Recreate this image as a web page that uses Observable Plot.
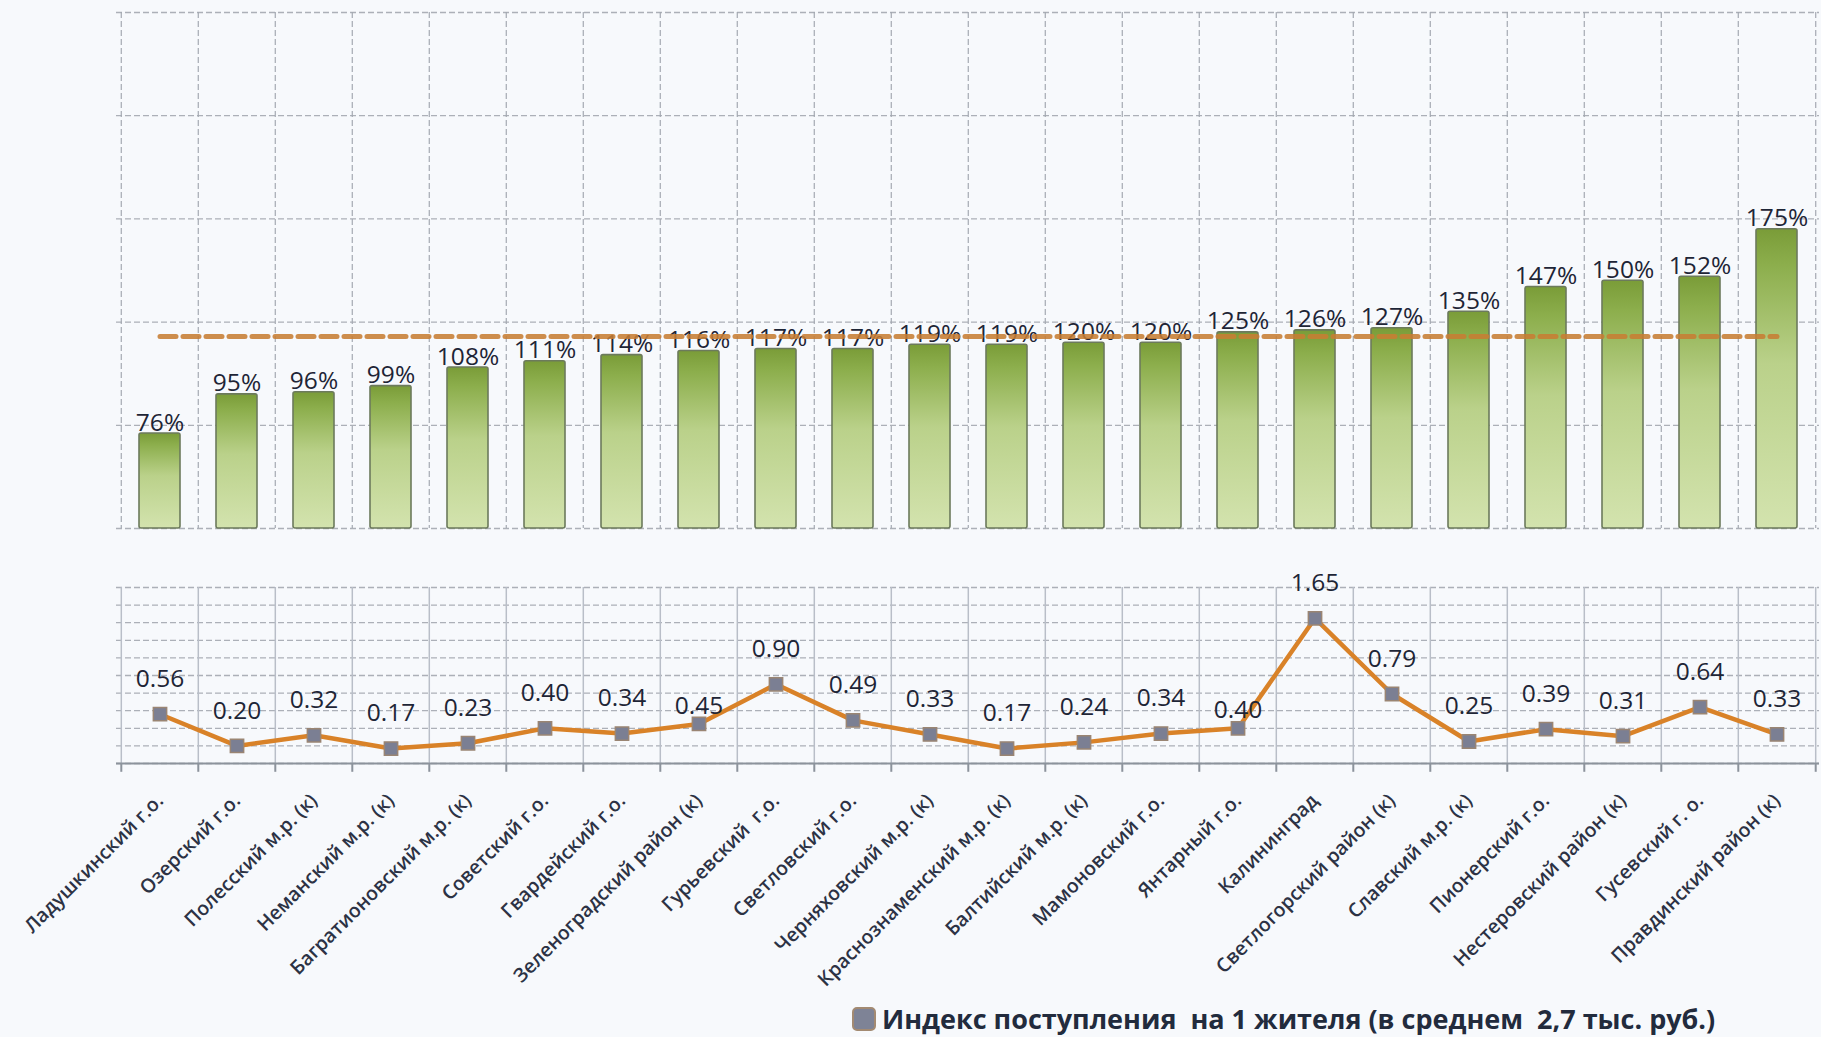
<!DOCTYPE html>
<html><head><meta charset="utf-8">
<script src="https://cdn.jsdelivr.net/npm/d3@7"></script>
<script src="https://cdn.jsdelivr.net/npm/@observablehq/plot@0.6"></script>
<style>
html,body{margin:0;padding:0;background:#f7f9fc;}
#wrap{position:relative;width:1821px;height:1037px;overflow:hidden;font-family:"Open Sans",sans-serif;}
#top{position:absolute;left:0;top:0;}
#bottom{position:absolute;left:0;top:540px;}
#legend{position:absolute;top:1000px;left:852px;display:flex;align-items:center;white-space:pre;font-weight:700;font-size:27px;color:#222b3d;}
#legend .mk{display:inline-block;width:20px;height:20px;background:#7e8396;border:2px solid #a38a72;border-radius:5px;margin-right:6px;}
</style></head><body>
<div id="wrap"><div id="top"></div><div id="bottom"></div><div id="legend"><span class="mk"></span><span id="legtext"></span></div></div>
<script>
const categories = ["Ладушкинский г.о.","Озерский г.о.","Полесский м.р. (к)","Неманский м.р. (к)","Багратионовский м.р. (к)","Советский г.о.","Гвардейский г.о.","Зеленоградский район (к)","Гурьевский  г.о.","Светловский г.о.","Черняховский м.р. (к)","Краснознаменский м.р. (к)","Балтийский м.р. (к)","Мамоновский г.о.","Янтарный г.о.","Калининград","Светлогорский район (к)","Славский м.р. (к)","Пионерский г.о.","Нестеровский район (к)","Гусевский г. о.","Правдинский район (к)"];
const percentValues = [76,95,96,99,108,111,114,116,117,117,119,119,120,120,125,126,127,135,147,150,152,175];
const incomeIndex = [0.56,0.20,0.32,0.17,0.23,0.40,0.34,0.45,0.90,0.49,0.33,0.17,0.24,0.34,0.40,1.65,0.79,0.25,0.39,0.31,0.64,0.33];
const averageLevel = 123;
const percentTicks = [30,80,130,180,230,280];
const indexTicks = [0,0.2,0.4,0.6,0.8,1.0,1.2,1.4,1.6,1.8,2.0];
const legendLabel = "Индекс поступления  на 1 жителя (в среднем  2,7 тыс. руб.)";

const W = 1821, ML = 116, MR = 2;
const step = (W - ML - MR) / categories.length;
const rows = categories.map((name, i) => ({name, pct: percentValues[i], idx: incomeIndex[i]}));
const lastCat = categories[categories.length - 1];
const gridColor = "#a3a7b0";
const textColor = "#1e2536";
const closeLabels = new Set(["Зеленоградский район (к)", "Янтарный г.о."]);

const topChart = Plot.plot({
  width: W, height: 540, marginLeft: ML, marginRight: MR, marginTop: 12, marginBottom: 12,
  style: {background: "transparent", fontFamily: "'Open Sans', sans-serif"},
  x: {type: "band", domain: categories, padding: 0, axis: null},
  y: {domain: [percentTicks[0], percentTicks[percentTicks.length - 1]], axis: null},
  marks: [
    Plot.gridY(percentTicks, {stroke: gridColor, strokeOpacity: 0.9, strokeWidth: 1.3, strokeDasharray: "6,3"}),
    Plot.ruleX(categories, {x: d => d, dx: -step / 2, stroke: gridColor, strokeOpacity: 0.9, strokeWidth: 1.3, strokeDasharray: "6,3"}),
    Plot.ruleX([lastCat], {x: d => d, dx: step / 2, stroke: gridColor, strokeOpacity: 0.9, strokeWidth: 1.3, strokeDasharray: "6,3"}),
    Plot.barY(rows, {x: "name", y1: percentTicks[0], y2: "pct", insetLeft: 18, insetRight: 18, fill: "url(#barGrad)", stroke: "#6c7a5c", strokeWidth: 1.6, rx: 2}),
    Plot.text(rows, {x: "name", y: "pct", text: d => d.pct + "%", dy: -3, lineAnchor: "bottom", fontSize: 24.5, fontWeight: 500, fill: textColor}),
    Plot.lineY([categories[0], lastCat], {x: d => d, y: averageLevel, stroke: "#c77d33", strokeOpacity: 0.88, strokeWidth: 5, strokeDasharray: "16,7"})
  ]
});
d3.select(topChart).insert("defs", ":first-child").html(
  `<linearGradient id="barGrad" x1="0" y1="0" x2="0" y2="1">
     <stop offset="0" stop-color="#7a9c38"/>
     <stop offset="0.12" stop-color="#8cae4c"/>
     <stop offset="0.45" stop-color="#bad18a"/>
     <stop offset="1" stop-color="#d3e3ae"/>
   </linearGradient>`);
document.getElementById("top").appendChild(topChart);

const bottomChart = Plot.plot({
  width: W, height: 470, marginLeft: ML, marginRight: MR, marginTop: 47, marginBottom: 247,
  style: {background: "transparent", fontFamily: "'Open Sans', sans-serif"},
  x: {type: "band", domain: categories, padding: 0, axis: null},
  y: {domain: [indexTicks[0], indexTicks[indexTicks.length - 1]], axis: null},
  marks: [
    Plot.gridY(indexTicks, {stroke: gridColor, strokeOpacity: 0.9, strokeWidth: 1.3, strokeDasharray: "6,3"}),
    Plot.ruleX(categories, {x: d => d, dx: -step / 2, stroke: "#b9bec8", strokeWidth: 1.5}),
    Plot.ruleX([lastCat], {x: d => d, dx: step / 2, stroke: "#b9bec8", strokeWidth: 1.5}),
    Plot.ruleX(categories, {x: d => d, dx: -step / 2, y1: 0, y2: -0.1, stroke: "#8c939c", strokeWidth: 2}),
    Plot.ruleX([lastCat], {x: d => d, dx: step / 2, y1: 0, y2: -0.1, stroke: "#8c939c", strokeWidth: 2}),
    Plot.ruleY([0], {stroke: "#8c939c", strokeWidth: 2.2}),
    Plot.line(rows, {x: "name", y: "idx", stroke: "#d98228", strokeWidth: 4.5}),
    Plot.dot(rows, {x: "name", y: "idx", symbol: "square", r: 7.5, fill: "#7b7f93", stroke: "#9a8573", strokeWidth: 1.5}),
    Plot.text(rows.filter(d => !closeLabels.has(d.name)), {x: "name", y: "idx", text: d => d.idx.toFixed(2), dy: -35, fontSize: 24.5, fontWeight: 500, fill: textColor}),
    Plot.text(rows.filter(d => closeLabels.has(d.name)), {x: "name", y: "idx", text: d => d.idx.toFixed(2), dy: -18, fontSize: 24.5, fontWeight: 500, fill: textColor}),
    Plot.axisX({tickRotate: -45, tickSize: 0, tickPadding: 34, fontSize: 19.5, fill: "#2c3244", label: null, fontWeight: 600})
  ]
});
document.getElementById("bottom").appendChild(bottomChart);
document.getElementById("legtext").textContent = legendLabel;
</script>
</body></html>
